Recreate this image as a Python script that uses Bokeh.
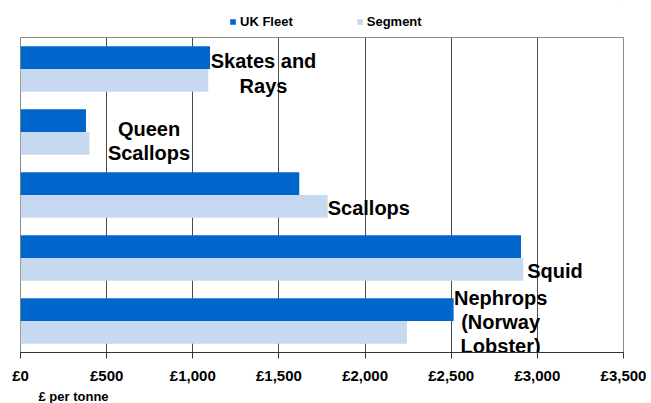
from bokeh.plotting import figure
from bokeh.layouts import column
from bokeh.models import (FactorRange, Range1d, FixedTicker, Legend, LegendItem,
                          Title, ColumnDataSource)
from bokeh.transform import dodge
from bokeh.core.properties import value
from bokeh.embed import file_html
from bokeh.resources import INLINE

# ---- data ----
categories = ["Skates and Rays", "Queen Scallops", "Scallops", "Squid",
              "Nephrops (Norway Lobster)"]
label_texts = ["Skates and\nRays", "Queen\nScallops", "Scallops", "Squid",
               "Nephrops\n(Norway\nLobster)"]
uk_fleet = [1100, 380, 1618, 2905, 2514]
segment = [1090, 400, 1783, 2918, 2243]
series_names = ["UK Fleet", "Segment"]
tick_values = [0, 500, 1000, 1500, 2000, 2500, 3000, 3500]
tick_labels = ["£0", "£500", "£1,000", "£1,500", "£2,000", "£2,500", "£3,000", "£3,500"]
x_title = "£ per tonne"

# ---- layout / style ----
label_align = ["center", "center", "left", "left", "center"]
label_dx = [53.5, 59.6, 0, 4, 47]
label_dy = [4.5, 8.6, 12.5, 12.7, 1]
FONT = "Liberation Sans"
C_UK = "#0066CC"
C_SEG = "#C6D9F1"
W = 651
H_LEG = 36
H_MAIN = 367

# ---- legend strip ----
lg = figure(width=W, height=H_LEG, x_range=Range1d(0, 1), y_range=Range1d(0, 1),
            output_backend="svg", toolbar_location=None,
            min_border_left=0, min_border_right=0, min_border_top=0, min_border_bottom=0)
lg.axis.visible = False
lg.grid.visible = False
lg.outline_line_color = None
lg.background_fill_color = "white"
lg.border_fill_color = "white"
# off-view proxies so that the legend can draw its swatches
proxy = ColumnDataSource(dict(y=[5], right=[5]))
l1 = lg.hbar(y="y", right="right", left=4, height=0.5, source=proxy,
             fill_color=C_UK, line_color=None)
l2 = lg.hbar(y="y", right="right", left=4, height=0.5, source=proxy,
             fill_color=C_SEG, line_color=None)
leg = Legend(items=[LegendItem(label=series_names[0], renderers=[l1]),
                    LegendItem(label=series_names[1], renderers=[l2])],
             location=(209, 7), orientation="horizontal",
             glyph_width=7, glyph_height=7, label_standoff=4, spacing=63,
             label_text_font=FONT, label_text_font_style="bold",
             label_text_font_size="13px", label_text_color="black",
             padding=0, margin=0,
             border_line_color=None, background_fill_alpha=0)
lg.add_layout(leg)

# ---- main chart ----
p = figure(width=W, height=H_MAIN,
           y_range=FactorRange(factors=categories[::-1]),
           x_range=Range1d(0, 3500),
           output_backend="svg", toolbar_location=None,
           min_border_left=20, min_border_right=28,
           min_border_top=1, min_border_bottom=46)

p.background_fill_color = "white"
p.border_fill_color = "white"
p.outline_line_color = "#8c8c8c"

p.yaxis.visible = False
p.ygrid.visible = False
p.xgrid.ticker = FixedTicker(ticks=tick_values)
p.xgrid.grid_line_color = "#4d4d4d"

xa = p.xaxis[0]
xa.ticker = FixedTicker(ticks=tick_values)
xa.major_label_overrides = {v: t for v, t in zip(tick_values, tick_labels)}
xa.major_label_text_font = FONT
xa.major_label_text_font_style = "bold"
xa.major_label_text_font_size = "15px"
xa.major_label_text_color = "black"
xa.major_label_standoff = 8
xa.axis_line_color = "#333333"
xa.major_tick_line_color = "#333333"
xa.major_tick_in = 0
xa.major_tick_out = 6
xa.minor_tick_line_color = None

src = ColumnDataSource(dict(cat=categories, uk=uk_fleet, seg=segment))
r1 = p.hbar(y=dodge("cat", 0.18, range=p.y_range), left=0, right="uk", height=0.36,
            source=src, fill_color=C_UK, line_color=None)
r2 = p.hbar(y=dodge("cat", -0.18, range=p.y_range), left=0, right="seg", height=0.36,
            source=src, fill_color=C_SEG, line_color=None)

lsrc = ColumnDataSource(dict(
    x=[max(a, b) for a, b in zip(uk_fleet, segment)],
    y=categories, text=label_texts, align=label_align, dx=label_dx, dy=label_dy))
p.text(x="x", y="y", text="text", x_offset="dx", y_offset="dy", text_align="align",
       text_baseline="middle", text_font=value(FONT), text_font_style="bold",
       text_font_size="20px", text_line_height=1.1, text_color="black", source=lsrc)

p.add_layout(Title(text=x_title, align="left", offset=18, standoff=0,
                   text_font=FONT, text_font_style="bold", text_font_size="13px",
                   text_color="black"), "below")

layout = column(lg, p, spacing=0)
open("out.html", "w").write(file_html(layout, INLINE))
